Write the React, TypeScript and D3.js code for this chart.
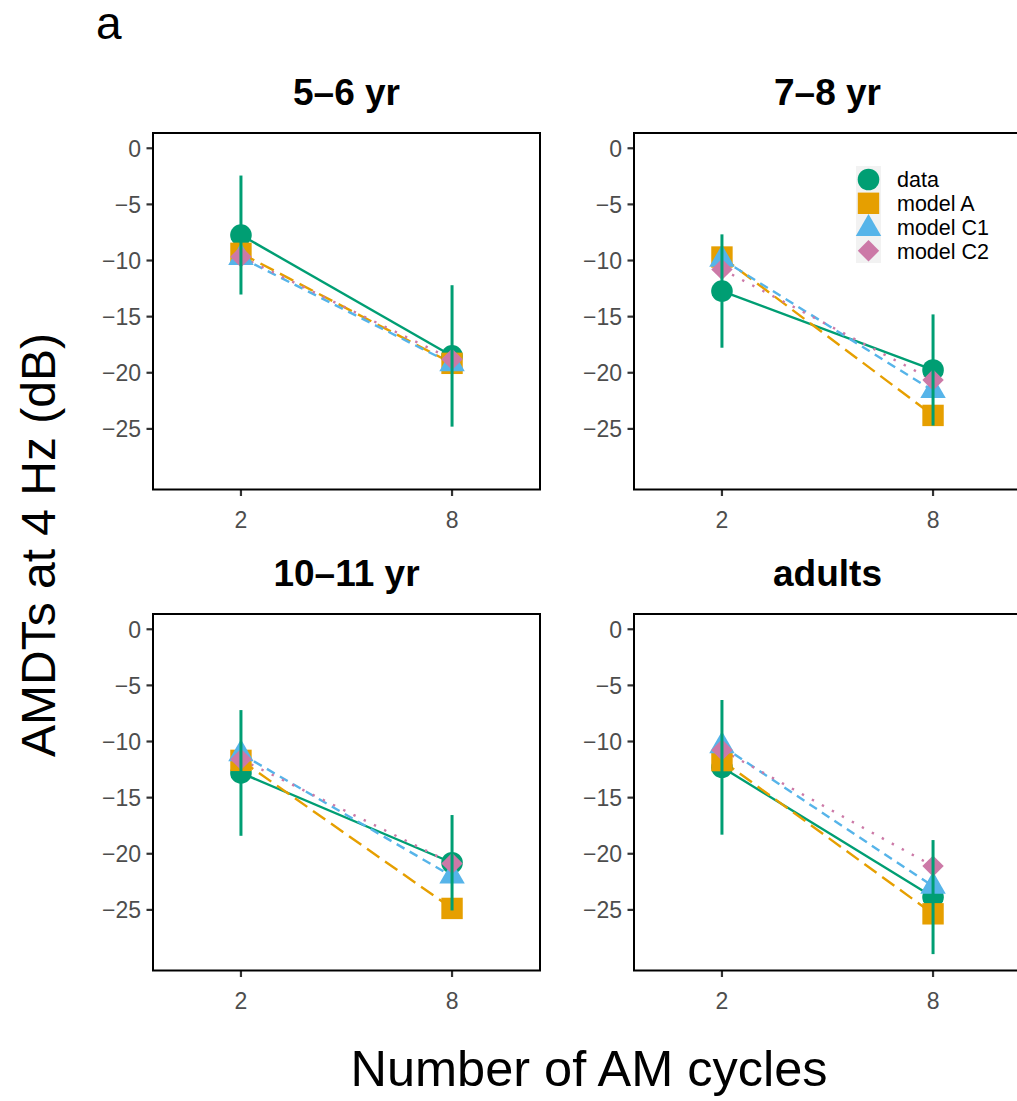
import React from "react";
import * as d3 from "d3";

const panelTitles = ["5–6 yr", "7–8 yr", "10–11 yr", "adults"];
const cycles = [2, 8];
const xTicks = [2, 8];
const yTicks = [0, -5, -10, -15, -20, -25];
const seriesNames = ["data", "model A", "model C1", "model C2"];

// per panel, values at 2 and 8 cycles
const dataMean = [
  [-7.73, -18.5],
  [-12.72, -19.75],
  [-12.8, -20.8],
  [-12.3, -23.86],
];
const dataErr = [
  [5.3, 6.3],
  [5.05, 4.95],
  [5.6, 4.25],
  [6.0, 5.08],
];
const modelA = [
  [-9.36, -19.16],
  [-9.69, -23.8],
  [-11.68, -24.87],
  [-11.7, -25.35],
];
const modelC1 = [
  [-9.75, -19.2],
  [-9.9, -21.6],
  [-11.1, -22.0],
  [-10.4, -22.9],
];
const modelC2 = [
  [-9.66, -18.8],
  [-10.79, -20.65],
  [-11.59, -20.86],
  [-10.76, -21.1],
];

const COLORS = ["#009E73", "#E69F00", "#56B4E9", "#CC79A7"];
const DASHES = [null, "15 7", "9 6", "2.4 9"];
const FONT = "'Liberation Sans', Arial, Helvetica, sans-serif";

const PW = 387;
const PH = 356.5;
const origins = [
  [153, 133],
  [634, 133],
  [153, 614],
  [634, 614],
];

function Shape({ kind, x, y, color }: { kind: number; x: number; y: number; color: string }) {
  if (kind === 0) return <circle cx={x} cy={y} r={10.8} fill={color} />;
  if (kind === 1) return <rect x={x - 10.7} y={y - 10.7} width={21.4} height={21.4} fill={color} />;
  if (kind === 2) {
    const r = 14.7;
    const pts = [
      [x, y - r],
      [x + 0.866 * r, y + r / 2],
      [x - 0.866 * r, y + r / 2],
    ];
    return <polygon points={pts.map((p) => p.join(",")).join(" ")} fill={color} />;
  }
  const d = 10.7;
  const pts = [
    [x, y - d],
    [x + d, y],
    [x, y + d],
    [x - d, y],
  ];
  return <polygon points={pts.map((p) => p.join(",")).join(" ")} fill={color} />;
}

function Panel({ idx }: { idx: number }) {
  const [ox, oy] = origins[idx];
  const x = d3.scaleLinear().domain([-0.5, 10.5]).range([ox, ox + PW]);
  const y = d3.scaleLinear().domain([-30.4, 1.36]).range([oy + PH, oy]);
  const fmt = d3.format("d");
  const series = [dataMean[idx], modelA[idx], modelC1[idx], modelC2[idx]];
  const line = d3
    .line<number>()
    .x((_, i) => x(cycles[i]))
    .y((v) => y(v));
  return (
    <g>
      <text
        x={ox + PW / 2}
        y={oy - 28}
        textAnchor="middle"
        fontFamily={FONT}
        fontWeight="bold"
        fontSize={37}
        fill="#000"
      >
        {panelTitles[idx]}
      </text>
      {yTicks.map((t) => (
        <g key={t}>
          <line x1={ox - 6.5} x2={ox} y1={y(t)} y2={y(t)} stroke="#333" strokeWidth={2.2} />
          <text
            x={ox - 12}
            y={y(t)}
            dy="0.36em"
            textAnchor="end"
            fontFamily={FONT}
            fontSize={23}
            fill="#4D4D4D"
          >
            {fmt(t).replace("-", "\u2212")}
          </text>
        </g>
      ))}
      {xTicks.map((t) => (
        <g key={t}>
          <line x1={x(t)} x2={x(t)} y1={oy + PH} y2={oy + PH + 6.5} stroke="#333" strokeWidth={2.2} />
          <text
            x={x(t)}
            y={oy + PH + 38}
            textAnchor="middle"
            fontFamily={FONT}
            fontSize={23}
            fill="#4D4D4D"
          >
            {t}
          </text>
        </g>
      ))}
      {series.map((s, i) => (
        <path
          key={"l" + i}
          d={line(s) || ""}
          fill="none"
          stroke={COLORS[i]}
          strokeWidth={2.4}
          strokeDasharray={DASHES[i] || undefined}
        />
      ))}
      {series.map((s, i) =>
        s.map((v, j) => <Shape key={"p" + i + "-" + j} kind={i} x={x(cycles[j])} y={y(v)} color={COLORS[i]} />)
      )}
      {dataMean[idx].map((m, j) => (
        <line
          key={"e" + j}
          x1={x(cycles[j])}
          x2={x(cycles[j])}
          y1={y(m + dataErr[idx][j])}
          y2={y(m - dataErr[idx][j])}
          stroke={COLORS[0]}
          strokeWidth={3}
        />
      ))}
      <rect x={ox} y={oy} width={PW} height={PH} fill="none" stroke="#000" strokeWidth={2} />
    </g>
  );
}

function Legend() {
  const kx = 868.5;
  const ys = [179.5, 203.3, 227.2, 250.8];
  return (
    <g>
      <rect x={856} y={166} width={25} height={97} fill="#F2F2F2" />
      {seriesNames.map((n, i) => (
        <g key={n}>
          <Shape kind={i} x={kx} y={ys[i] + (i === 2 ? 1.5 : 0)} color={COLORS[i]} />
          <text x={897} y={ys[i]} dy="0.36em" fontFamily={FONT} fontSize={21.5} fill="#000">
            {n}
          </text>
        </g>
      ))}
    </g>
  );
}

export default function App() {
  return (
    <svg
      width={1017}
      height={1101}
      style={{ position: "absolute", left: 0, top: 0, background: "#fff" }}
    >
      <rect x={0} y={0} width={1017} height={1101} fill="#fff" />
      <text x={96} y={39} fontFamily={FONT} fontSize={46} fill="#000">
        a
      </text>
      {panelTitles.map((_, i) => (
        <Panel key={i} idx={i} />
      ))}
      <Legend />
      <text
        transform="translate(55,545) rotate(-90)"
        textAnchor="middle"
        fontFamily={FONT}
        fontSize={48}
        fill="#000"
      >
        AMDTs at 4 Hz (dB)
      </text>
      <text x={589} y={1086} textAnchor="middle" fontFamily={FONT} fontSize={50.5} fill="#000">
        Number of AM cycles
      </text>
    </svg>
  );
}
